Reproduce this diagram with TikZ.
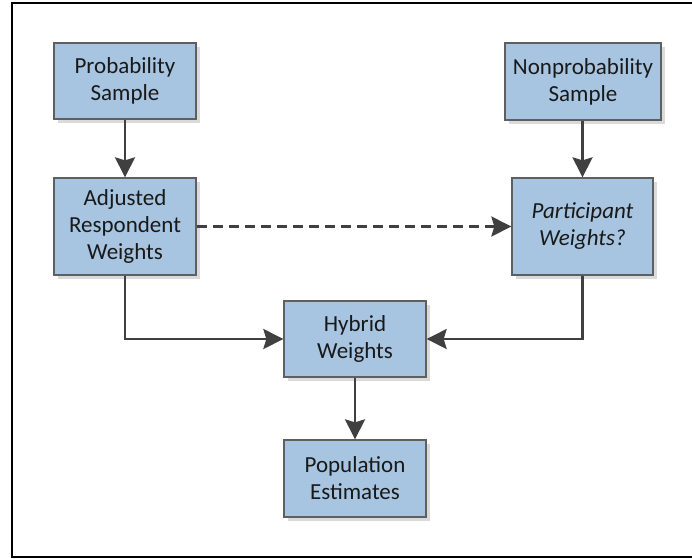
\documentclass[tikz,border=0pt]{standalone}
\usepackage{fontspec}
\setmainfont{Carlito}
\usetikzlibrary{arrows.meta,shadows}
\definecolor{boxfill}{HTML}{A7C4E0}
\definecolor{boxline}{HTML}{5F5F5F}
\definecolor{arr}{HTML}{404040}
\definecolor{shad}{HTML}{DADADA}
\tikzset{
  stepbox/.style={draw=boxline, line width=1.3pt, fill=boxfill, align=center,
    inner sep=0pt, text=black!90, font=\fontsize{23}{27}\selectfont,
    drop shadow={shadow xshift=4pt, shadow yshift=-4pt, fill=shad, opacity=1}},
  conn/.style={draw=arr, line width=2.6pt,
    -{Stealth[length=20pt, width=20pt, inset=3pt]}},
}
\begin{document}
\begin{tikzpicture}[x=1pt,y=-1pt]
\useasboundingbox (0,0) rectangle (692,558);
\draw[line width=2.2pt, line cap=rect] (692,3) -- (12,3) -- (12,557) -- (692,557);
\node[stepbox, minimum width=142pt, minimum height=76pt] (prob) at (125,81) {Probability\\Sample};
\node[stepbox, minimum width=142pt, minimum height=97pt] (adj) at (125,226.5) {Adjusted\\Respondent\\Weights};
\node[stepbox, minimum width=156pt, minimum height=77pt] (nonp) at (583,81.5) {Nonprobability\\Sample};
\node[stepbox, minimum width=141pt, minimum height=97pt] (part) at (582.5,226.5) {\itshape Participant\\\itshape Weights?};
\node[stepbox, minimum width=142pt, minimum height=76pt] (hyb) at (355,339) {Hybrid\\Weights};
\node[stepbox, minimum width=142pt, minimum height=77pt] (pop) at (355,478.5) {Population\\Estimates};
\draw[conn] (prob) -- (adj);
\draw[conn] (nonp.south -| part) -- (part);
\draw[conn, dashed, dash pattern=on 10pt off 6pt] (adj.east) -- (part.west);
\draw[conn] (adj.south) |- (hyb.west);
\draw[conn] (part.south) |- (hyb.east);
\draw[conn] (hyb) -- (pop);
\end{tikzpicture}
\end{document}
